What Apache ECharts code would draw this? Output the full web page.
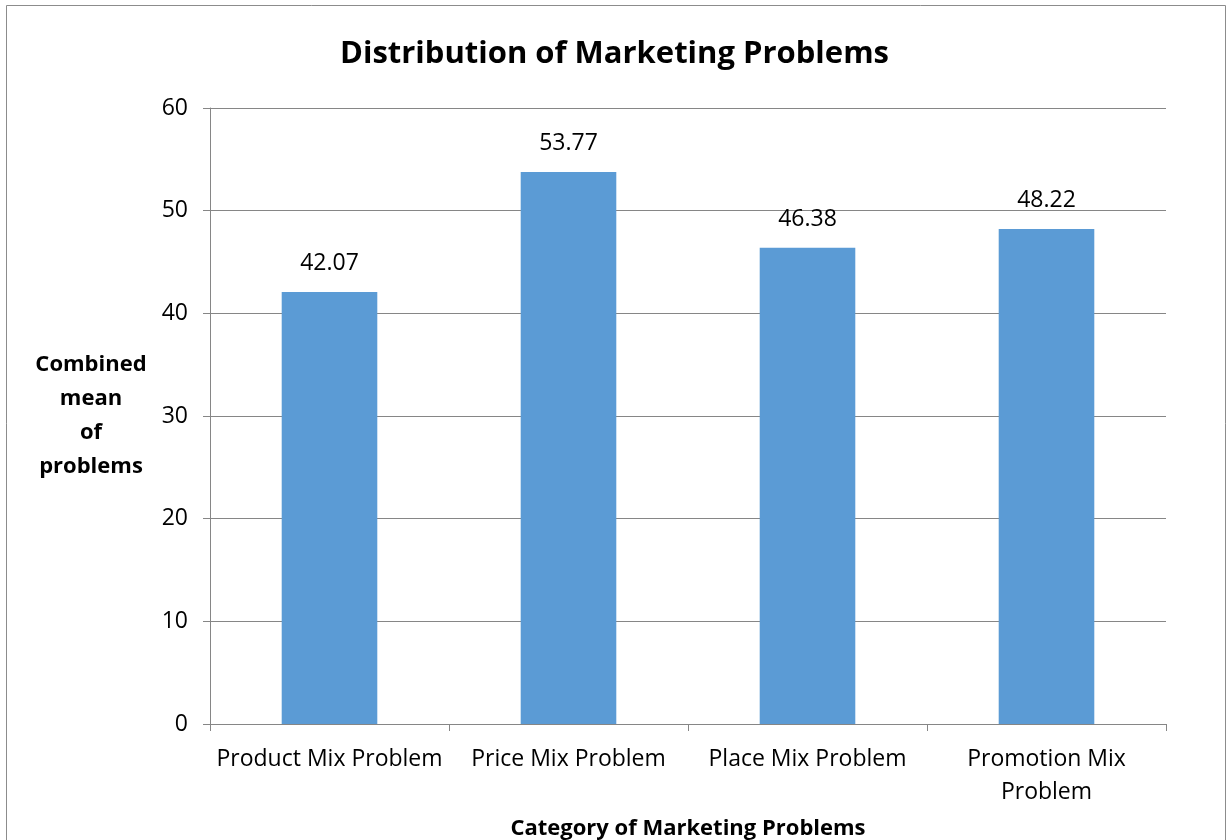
<!DOCTYPE html>
<html>
<head>
<meta charset="utf-8">
<script src="https://cdn.jsdelivr.net/npm/echarts@6/dist/echarts.min.js"></script>
<style>
  html, body { margin: 0; padding: 0; background: #fff; }
  #chart { width: 1229px; height: 840px; }
</style>
</head>
<body>
<div id="chart"></div>
<script>
// categories and values
const categories = ['Product Mix Problem', 'Price Mix Problem', 'Place Mix Problem', 'Promotion Mix Problem']
const meanValues = [42.07, 53.77, 46.38, 48.22]
const yTicks = { min: 0, max: 60, interval: 10 }

const font = '"Open Sans", sans-serif'

const chart = echarts.init(document.getElementById('chart'))
chart.setOption({
  backgroundColor: '#fff',
  animation: false,
  graphic: [{
    type: 'rect',
    shape: { x: 6.5, y: 5.5, width: 1219, height: 860 },
    style: { fill: 'none', stroke: '#8c8c8c', lineWidth: 1 },
    silent: true
  }],
  title: {
    text: 'Distribution of Marketing Problems',
    left: 'center',
    top: 34,
    textStyle: { fontFamily: font, fontSize: 31, fontWeight: 'bold', color: '#000' }
  },
  grid: { left: 210, right: 63, top: 108, bottom: 116, outerBoundsMode: 'none' },
  xAxis: {
    type: 'category',
    data: categories,
    name: 'Category of Marketing Problems',
    nameLocation: 'middle',
    nameGap: 94,
    nameTextStyle: { fontFamily: font, fontSize: 22, fontWeight: 'bold', color: '#000' },
    axisLine: { lineStyle: { color: '#868686' } },
    axisTick: { show: true, length: 7, lineStyle: { color: '#868686' } },
    axisLabel: {
      interval: 0,
      fontFamily: font, fontSize: 23, color: '#000', margin: 19, lineHeight: 33,
      formatter: v => v.length > 20 ? v.replace(/ (\S+)$/, '\n$1') : v
    }
  },
  yAxis: {
    type: 'value',
    min: yTicks.min, max: yTicks.max, interval: yTicks.interval,
    name: 'Combined\nmean\nof\nproblems',
    nameLocation: 'middle',
    nameRotate: 0,
    nameGap: 119,
    nameTextStyle: {
      fontFamily: font, fontSize: 22, fontWeight: 'bold', color: '#000',
      align: 'center', lineHeight: 34, padding: [10, 0, 0, 0]
    },
    axisLine: { show: true, lineStyle: { color: '#868686' } },
    axisTick: { show: true, length: 7, lineStyle: { color: '#868686' } },
    axisLabel: { fontFamily: font, fontSize: 23, color: '#000', margin: 22 },
    splitLine: { lineStyle: { color: '#868686' } }
  },
  series: [{
    type: 'bar',
    data: meanValues,
    barWidth: '40%',
    itemStyle: { color: '#5b9bd5' },
    label: {
      show: true, position: 'top', distance: 17,
      fontFamily: font, fontSize: 23, color: '#000',
      formatter: p => p.value.toFixed(2)
    }
  }]
})
</script>
</body>
</html>
